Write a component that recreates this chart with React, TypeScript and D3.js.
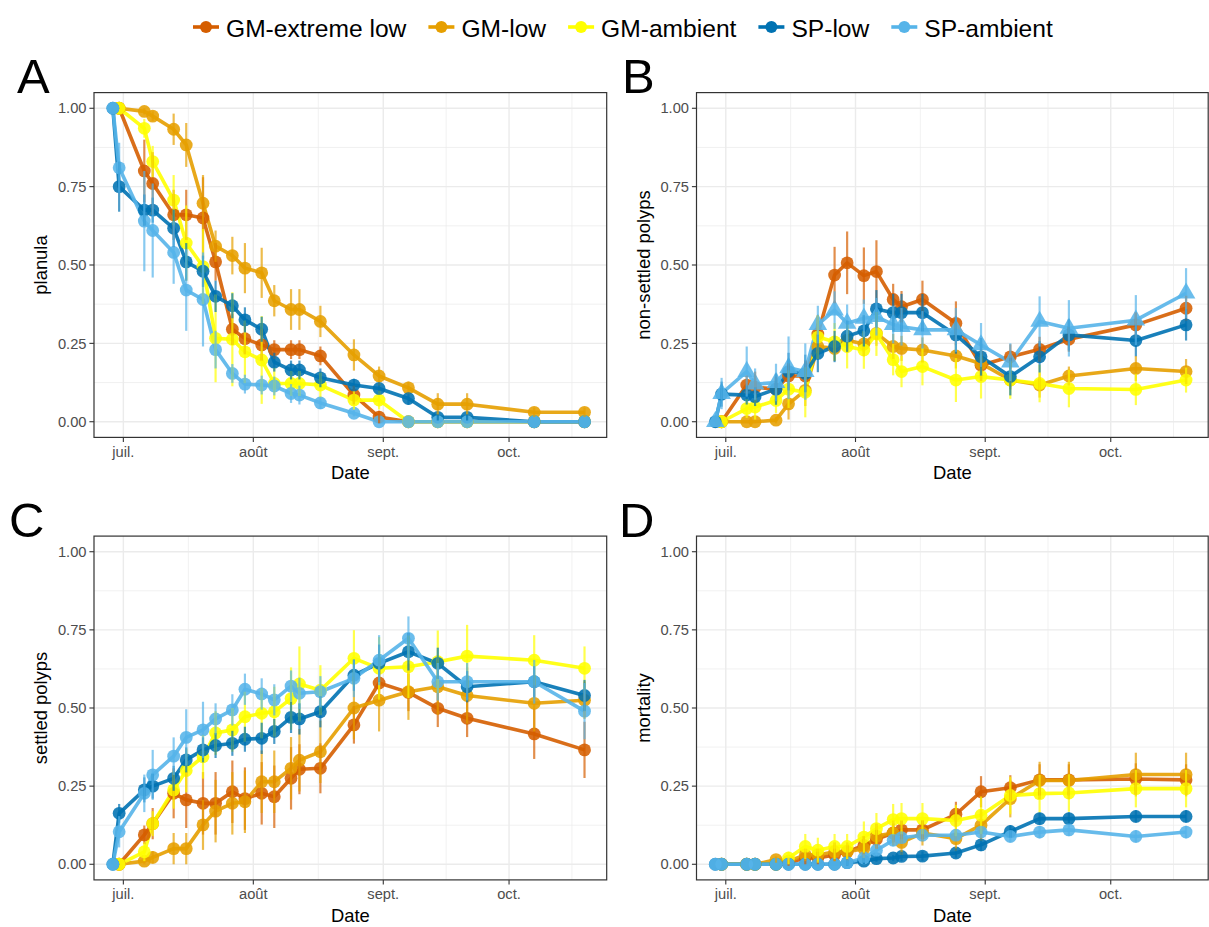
import React from "react";
import * as d3 from "d3";

const sampleDates = [
  "2019-06-28T12:00", "2019-06-30T00:00", "2019-07-06T00:00", "2019-07-08T00:00",
  "2019-07-13T00:00", "2019-07-16T00:00", "2019-07-20T00:00", "2019-07-23T00:00",
  "2019-07-27T00:00", "2019-07-30T00:00", "2019-08-03T00:00", "2019-08-06T00:00",
  "2019-08-10T00:00", "2019-08-12T00:00", "2019-08-17T00:00", "2019-08-25T00:00",
  "2019-08-31T00:00", "2019-09-07T00:00", "2019-09-14T00:00", "2019-09-21T00:00",
  "2019-10-07T00:00", "2019-10-19T00:00",
];
const groups = ["GM-extreme low", "GM-low", "GM-ambient", "SP-low", "SP-ambient"];
const groupColors = ["#D55E00", "#E69F00", "#FFFF00", "#0072B2", "#56B4E9"];
const monthLabels = ["juil.", "août", "sept.", "oct."];
const yTicks = [0, 0.25, 0.5, 0.75, 1];
const N = null;

// Panel A: planula
const planulaMean = [
  [N, 1.0, 0.8, 0.76, 0.66, 0.66, 0.65, 0.51, 0.295, 0.265, 0.245, 0.23, 0.23, 0.23, 0.21, 0.085, 0.015, 0, 0, 0, 0, 0],
  [N, 1.0, 0.99, 0.975, 0.933, 0.883, 0.697, 0.56, 0.53, 0.49, 0.475, 0.386, 0.358, 0.358, 0.32, 0.213, 0.146, 0.108, 0.056, 0.056, 0.03, 0.03],
  [N, 1.0, 0.936, 0.83, 0.707, 0.57, 0.495, 0.266, 0.263, 0.223, 0.197, 0.122, 0.122, 0.122, 0.117, 0.069, 0.069, 0, 0, 0, 0, 0],
  [1.0, 0.75, 0.675, 0.675, 0.617, 0.51, 0.48, 0.4, 0.37, 0.325, 0.295, 0.19, 0.165, 0.165, 0.14, 0.117, 0.106, 0.074, 0.014, 0.014, 0, 0],
  [1.0, 0.81, 0.64, 0.61, 0.54, 0.42, 0.39, 0.23, 0.154, 0.12, 0.117, 0.114, 0.09, 0.085, 0.06, 0.027, 0, 0, 0, 0, 0, 0],
];
const planulaSE = [
  [N, 0, 0.1, 0.1, 0.08, 0.08, 0.13, 0.06, 0.05, 0.05, 0.05, 0.03, 0.03, 0.03, 0.03, 0.03, 0.02, 0, 0, 0, 0, 0],
  [N, 0, 0.01, 0.015, 0.05, 0.07, 0.09, 0.05, 0.06, 0.08, 0.08, 0.05, 0.065, 0.065, 0.05, 0.05, 0.03, 0.02, 0.035, 0.035, 0.015, 0.015],
  [N, 0, 0.03, 0.05, 0.08, 0.12, 0.12, 0.14, 0.15, 0.1, 0.14, 0.05, 0.04, 0.04, 0.04, 0.03, 0.03, 0, 0, 0, 0, 0],
  [0, 0.08, 0.05, 0.04, 0.06, 0.06, 0.05, 0.05, 0.04, 0.04, 0.04, 0.03, 0.03, 0.03, 0.03, 0.02, 0.02, 0.02, 0.01, 0.01, 0, 0],
  [0, 0.08, 0.16, 0.15, 0.1, 0.13, 0.15, 0.06, 0.03, 0.03, 0.03, 0.03, 0.03, 0.03, 0.02, 0.01, 0, 0, 0, 0, 0, 0],
];

// Panel B: non-settled polyps
const nonSettledMean = [
  [N, 0, 0.117, 0.11, 0.104, 0.146, 0.146, 0.28, 0.468, 0.507, 0.466, 0.479, 0.39, 0.367, 0.39, 0.314, 0.18, 0.207, 0.231, 0.263, 0.309, 0.362],
  [N, 0, 0, 0, 0.005, 0.057, 0.1, 0.24, 0.234, 0.26, 0.248, 0.282, 0.24, 0.234, 0.229, 0.21, 0.186, 0.133, 0.117, 0.146, 0.17, 0.16],
  [N, 0, 0.042, 0.047, 0.068, 0.104, 0.094, 0.27, 0.255, 0.24, 0.229, 0.28, 0.198, 0.16, 0.176, 0.133, 0.144, 0.133, 0.122, 0.106, 0.103, 0.133],
  [0, 0.088, 0.085, 0.08, 0.104, 0.16, 0.154, 0.218, 0.24, 0.273, 0.29, 0.36, 0.348, 0.348, 0.348, 0.277, 0.207, 0.144, 0.207, 0.277, 0.259, 0.309],
  [0, 0.09, 0.16, 0.12, 0.125, 0.172, 0.16, 0.31, 0.356, 0.314, 0.33, 0.335, 0.31, 0.303, 0.293, 0.293, 0.245, 0.19, 0.32, 0.298, 0.324, 0.41],
];
const nonSettledSE = [
  [N, 0, 0.03, 0.05, 0.04, 0.04, 0.05, 0.06, 0.09, 0.1, 0.09, 0.1, 0.05, 0.05, 0.06, 0.07, 0.05, 0.04, 0.04, 0.04, 0.04, 0.04],
  [N, 0, 0, 0, 0.01, 0.05, 0.05, 0.04, 0.04, 0.04, 0.04, 0.04, 0.04, 0.04, 0.04, 0.04, 0.04, 0.03, 0.04, 0.03, 0.04, 0.04],
  [N, 0, 0.03, 0.04, 0.04, 0.06, 0.08, 0.07, 0.06, 0.07, 0.06, 0.07, 0.05, 0.05, 0.06, 0.07, 0.07, 0.06, 0.06, 0.06, 0.05, 0.04],
  [0, 0.04, 0.03, 0.03, 0.05, 0.06, 0.06, 0.06, 0.05, 0.05, 0.05, 0.06, 0.06, 0.06, 0.06, 0.06, 0.06, 0.06, 0.05, 0.05, 0.05, 0.05],
  [0, 0.05, 0.08, 0.05, 0.06, 0.1, 0.09, 0.06, 0.06, 0.06, 0.06, 0.06, 0.06, 0.06, 0.06, 0.07, 0.07, 0.06, 0.08, 0.09, 0.08, 0.08],
];

// Panel C: settled polyps
const settledMean = [
  [N, 0, 0.094, 0.13, 0.227, 0.206, 0.195, 0.195, 0.232, 0.21, 0.227, 0.216, 0.275, 0.304, 0.307, 0.446, 0.58, 0.55, 0.499, 0.467, 0.417, 0.366],
  [N, 0, 0.01, 0.022, 0.05, 0.05, 0.126, 0.17, 0.195, 0.2, 0.264, 0.264, 0.307, 0.333, 0.36, 0.5, 0.525, 0.552, 0.568, 0.54, 0.515, 0.525],
  [N, 0, 0.04, 0.13, 0.238, 0.3, 0.344, 0.42, 0.43, 0.472, 0.483, 0.488, 0.53, 0.577, 0.557, 0.659, 0.627, 0.632, 0.648, 0.666, 0.653, 0.627],
  [0, 0.163, 0.238, 0.25, 0.275, 0.334, 0.366, 0.38, 0.387, 0.4, 0.403, 0.425, 0.47, 0.465, 0.488, 0.605, 0.643, 0.68, 0.643, 0.568, 0.584, 0.54],
  [0, 0.104, 0.227, 0.286, 0.346, 0.406, 0.43, 0.465, 0.494, 0.56, 0.545, 0.526, 0.57, 0.547, 0.552, 0.595, 0.653, 0.723, 0.584, 0.584, 0.584, 0.49],
];
const settledSE = [
  [N, 0, 0.03, 0.05, 0.08, 0.09, 0.1, 0.1, 0.1, 0.1, 0.1, 0.1, 0.1, 0.08, 0.08, 0.06, 0.05, 0.06, 0.06, 0.06, 0.08, 0.09],
  [N, 0, 0.01, 0.02, 0.05, 0.05, 0.08, 0.1, 0.1, 0.1, 0.1, 0.1, 0.1, 0.1, 0.1, 0.1, 0.1, 0.09, 0.09, 0.09, 0.09, 0.06],
  [N, 0, 0.03, 0.04, 0.06, 0.07, 0.07, 0.07, 0.07, 0.08, 0.08, 0.08, 0.1, 0.12, 0.08, 0.09, 0.1, 0.1, 0.1, 0.1, 0.08, 0.07],
  [0, 0.03, 0.04, 0.04, 0.04, 0.04, 0.04, 0.04, 0.04, 0.04, 0.05, 0.04, 0.05, 0.05, 0.05, 0.05, 0.06, 0.06, 0.05, 0.05, 0.05, 0.05],
  [0, 0.05, 0.06, 0.08, 0.06, 0.09, 0.09, 0.05, 0.05, 0.05, 0.05, 0.05, 0.05, 0.05, 0.05, 0.06, 0.08, 0.07, 0.06, 0.06, 0.07, 0.09],
];

// Panel D: mortality
const mortalityMean = [
  [N, 0, 0, 0, 0, 0.005, 0.02, 0.02, 0.03, 0.04, 0.06, 0.08, 0.1, 0.11, 0.11, 0.16, 0.232, 0.245, 0.27, 0.27, 0.273, 0.27],
  [N, 0, 0, 0, 0.015, 0.01, 0.03, 0.03, 0.04, 0.04, 0.05, 0.09, 0.1, 0.07, 0.1, 0.082, 0.125, 0.21, 0.268, 0.268, 0.287, 0.287],
  [N, 0, 0, 0, 0, 0.02, 0.057, 0.045, 0.057, 0.057, 0.087, 0.114, 0.143, 0.146, 0.146, 0.14, 0.157, 0.22, 0.226, 0.228, 0.242, 0.242],
  [0, 0, 0, 0, 0, 0, 0, 0, 0, 0.005, 0.01, 0.018, 0.02, 0.025, 0.026, 0.036, 0.062, 0.105, 0.146, 0.146, 0.153, 0.153],
  [0, 0, 0, 0, 0, 0, 0, 0, 0, 0.005, 0.02, 0.045, 0.077, 0.085, 0.093, 0.093, 0.103, 0.089, 0.103, 0.11, 0.089, 0.103],
];
const mortalitySE = [
  [N, 0, 0, 0, 0, 0.01, 0.02, 0.02, 0.02, 0.02, 0.03, 0.03, 0.03, 0.03, 0.03, 0.04, 0.05, 0.04, 0.05, 0.05, 0.05, 0.05],
  [N, 0, 0, 0, 0.01, 0.01, 0.02, 0.02, 0.03, 0.03, 0.03, 0.04, 0.04, 0.04, 0.04, 0.04, 0.05, 0.06, 0.06, 0.06, 0.07, 0.07],
  [N, 0, 0, 0, 0, 0.02, 0.04, 0.04, 0.04, 0.04, 0.05, 0.05, 0.05, 0.05, 0.05, 0.05, 0.06, 0.06, 0.06, 0.06, 0.06, 0.06],
  [0, 0, 0, 0, 0, 0, 0, 0, 0, 0.01, 0.01, 0.01, 0.01, 0.015, 0.015, 0.015, 0.02, 0.02, 0.02, 0.02, 0.02, 0.02],
  [0, 0, 0, 0, 0, 0, 0, 0, 0, 0.01, 0.015, 0.02, 0.02, 0.02, 0.02, 0.02, 0.02, 0.02, 0.02, 0.02, 0.02, 0.02],
];

const FONT = "'Liberation Sans', Arial, Helvetica, sans-serif";
const parsedDates = sampleDates.map((s) => new Date(s));
const xDomain = [new Date("2019-06-24T00:00"), new Date("2019-10-24T07:00")];

type PanelProps = {
  left: number; right: number; top: number; bottom: number;
  letter: string; letterX: number; letterY: number;
  ylabel: string; mean: (number | null)[][]; se: (number | null)[][];
  triangleGroup?: number;
};

function Panel(p: PanelProps) {
  const x = d3.scaleTime().domain(xDomain).range([p.left, p.right]);
  const y = d3.scaleLinear().domain([-0.05, 1.05]).range([p.bottom, p.top]);
  const majors = d3.timeMonth.range(new Date("2019-07-01T00:00"), new Date("2019-10-02T00:00"));
  const majorX = majors.map((d) => x(d));
  const minorX: number[] = [];
  for (let i = 0; i < majors.length - 1; i++) {
    minorX.push(x(new Date((majors[i].getTime() + majors[i + 1].getTime()) / 2)));
  }
  const last = majors[majors.length - 1].getTime();
  const prev = majors[majors.length - 2].getTime();
  minorX.push(x(new Date(last + (last - prev) / 2)));
  const minorY = [0.125, 0.375, 0.625, 0.875];
  const fmt = d3.format(".2f");
  const gridColor = "#EBEBEB";
  const axisColor = "#333333";

  const seriesPts = p.mean.map((row, g) =>
    row
      .map((v, i) => ({ v, e: p.se[g][i], d: parsedDates[i] }))
      .filter((o) => o.v !== null) as { v: number; e: number; d: Date }[]
  );
  const line = d3
    .line<{ v: number; d: Date }>()
    .x((o) => x(o.d))
    .y((o) => y(o.v));
  const tri = d3.symbol().type(d3.symbolTriangle).size(150)();

  return (
    <g>
      <rect x={p.left} y={p.top} width={p.right - p.left} height={p.bottom - p.top} fill="#FFFFFF" />
      {minorX.map((mx, i) => (
        <line key={"mx" + i} x1={mx} x2={mx} y1={p.top} y2={p.bottom} stroke={gridColor} strokeWidth={0.7} />
      ))}
      {minorY.map((v, i) => (
        <line key={"my" + i} x1={p.left} x2={p.right} y1={y(v)} y2={y(v)} stroke={gridColor} strokeWidth={0.7} />
      ))}
      {majorX.map((mx, i) => (
        <line key={"Mx" + i} x1={mx} x2={mx} y1={p.top} y2={p.bottom} stroke={gridColor} strokeWidth={1.4} />
      ))}
      {yTicks.map((v, i) => (
        <line key={"My" + i} x1={p.left} x2={p.right} y1={y(v)} y2={y(v)} stroke={gridColor} strokeWidth={1.4} />
      ))}
      {seriesPts.map((pts, g) => (
        <path key={"l" + g} d={line(pts) || ""} fill="none" stroke={groupColors[g]} strokeWidth={3.6} strokeOpacity={0.9} strokeLinejoin="round" />
      ))}
      {seriesPts.map((pts, g) =>
        pts.map((o, i) =>
          g === p.triangleGroup ? (
            <path key={"t" + g + "-" + i} d={tri || ""} transform={`translate(${x(o.d)},${y(o.v)})`} fill={groupColors[g]} fillOpacity={0.88} />
          ) : (
            <circle key={"c" + g + "-" + i} cx={x(o.d)} cy={y(o.v)} r={6.4} fill={groupColors[g]} fillOpacity={0.88} />
          )
        )
      )}
      {seriesPts.map((pts, g) =>
        pts
          .filter((o) => o.e > 0)
          .map((o, i) => (
            <line key={"e" + g + "-" + i} x1={x(o.d)} x2={x(o.d)} y1={y(o.v - o.e)} y2={y(o.v + o.e)} stroke={groupColors[g]} strokeWidth={2.2} strokeOpacity={0.7} />
          ))
      )}
      <rect x={p.left} y={p.top} width={p.right - p.left} height={p.bottom - p.top} fill="none" stroke={axisColor} strokeWidth={1.2} />
      {yTicks.map((v, i) => (
        <g key={"yt" + i}>
          <line x1={p.left - 4.6} x2={p.left} y1={y(v)} y2={y(v)} stroke={axisColor} strokeWidth={1.1} />
          <text x={p.left - 7.5} y={y(v)} dy="0.35em" textAnchor="end" fontFamily={FONT} fontSize={14.7} fill="#4D4D4D">
            {fmt(v)}
          </text>
        </g>
      ))}
      {majorX.map((mx, i) => (
        <g key={"xt" + i}>
          <line x1={mx} x2={mx} y1={p.bottom} y2={p.bottom + 4.6} stroke={axisColor} strokeWidth={1.1} />
          <text x={mx} y={p.bottom + 19.5} textAnchor="middle" fontFamily={FONT} fontSize={14.7} fill="#4D4D4D">
            {monthLabels[i]}
          </text>
        </g>
      ))}
      <text x={(p.left + p.right) / 2} y={p.bottom + 42} textAnchor="middle" fontFamily={FONT} fontSize={18.4} fill="#000000">
        Date
      </text>
      <text
        transform={`translate(${p.left - 47},${(p.top + p.bottom) / 2}) rotate(-90)`}
        textAnchor="middle"
        fontFamily={FONT}
        fontSize={18.4}
        fill="#000000"
      >
        {p.ylabel}
      </text>
      <text x={p.letterX} y={p.letterY} fontFamily={FONT} fontSize={49} fill="#000000">
        {p.letter}
      </text>
    </g>
  );
}

function Legend() {
  const fontSize = 24.6;
  const widths = [180.4, 84.7, 135.3, 77.9, 128.5];
  const keyW = 26;
  const gap = 7;
  const spacing = 22;
  let cx = 193;
  const items = groups.map((g, i) => {
    const item = { x: cx, label: g, color: groupColors[i] };
    cx += keyW + gap + widths[i] + spacing;
    return item;
  });
  const cy = 27;
  return (
    <g>
      {items.map((it, i) => (
        <g key={i}>
          <line x1={it.x} x2={it.x + keyW} y1={cy} y2={cy} stroke={it.color} strokeWidth={3.6} />
          <circle cx={it.x + keyW / 2} cy={cy} r={6} fill={it.color} />
          <text x={it.x + keyW + gap} y={36.5} fontFamily={FONT} fontSize={fontSize} fill="#000000">
            {it.label}
          </text>
        </g>
      ))}
    </g>
  );
}

export default function App() {
  const W = 1209;
  const H = 927;
  const colL = { left: 94, right: 606.7 };
  const colR = { left: 696.5, right: 1208.2 };
  const rowT = { top: 92.6, bottom: 437.4 };
  const rowB = { top: 536.1, bottom: 879.9 };
  return (
    <svg width={W} height={H} style={{ position: "absolute", left: 0, top: 0, background: "#FFFFFF" }}>
      <rect x={0} y={0} width={W} height={H} fill="#FFFFFF" />
      <Legend />
      <Panel {...colL} {...rowT} letter="A" letterX={17} letterY={93} ylabel="planula" mean={planulaMean} se={planulaSE} />
      <Panel {...colR} {...rowT} letter="B" letterX={622} letterY={93} ylabel="non-settled polyps" mean={nonSettledMean} se={nonSettledSE} triangleGroup={4} />
      <Panel {...colL} {...rowB} letter="C" letterX={9} letterY={537} ylabel="settled polyps" mean={settledMean} se={settledSE} />
      <Panel {...colR} {...rowB} letter="D" letterX={619} letterY={537} ylabel="mortality" mean={mortalityMean} se={mortalitySE} />
    </svg>
  );
}
